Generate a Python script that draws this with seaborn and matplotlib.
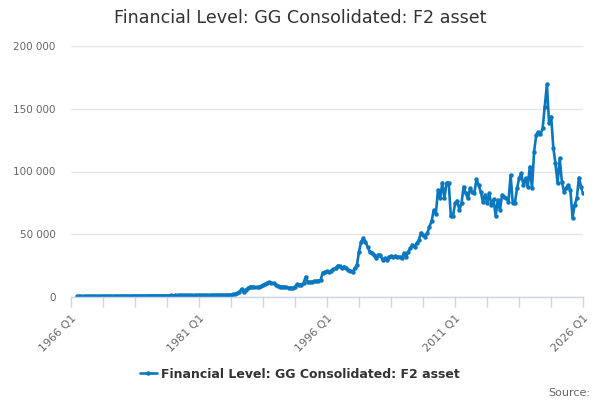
import pandas as pd
import matplotlib
matplotlib.use('Agg')
import matplotlib.pyplot as plt
import seaborn as sns

# Quarterly values (first point is 1966 Q4)
start_period = '1966Q4'
values = [
    600,                             # 1966
    650, 620, 660, 700,              # 1967
    680, 720, 690, 740,              # 1968
    760, 720, 780, 790,              # 1969
    770, 820, 800, 850,              # 1970
    820, 870, 850, 900,              # 1971
    880, 910, 890, 950,              # 1972
    930, 980, 960, 1000,             # 1973
    990, 1020, 1010, 1060,           # 1974
    1040, 1070, 1050, 1100,          # 1975
    1080, 1120, 1090, 1150,          # 1976
    1120, 1170, 1140, 1200,          # 1977
    1190, 1220, 1200, 1260,          # 1978
    1240, 1290, 1260, 1320,          # 1979
    1300, 1350, 1330, 1400,          # 1980
    1380, 1440, 1420, 1500,          # 1981
    1470, 1550, 1520, 1600,          # 1982
    1580, 1650, 1610, 1700,          # 1983
    1690, 1780, 1740, 1850,          # 1984
    2100, 2300, 2900, 4200,          # 1985
    6500, 3700, 5800, 7000,          # 1986
    8200, 8100, 7900, 7700,          # 1987
    7800, 8400, 9400, 10200,         # 1988
    11000, 11600, 11300, 10800,      # 1989
    9300, 8600, 8200, 8200,          # 1990
    8100, 7800, 7500, 7400,          # 1991
    7000, 8100, 10100, 9700,         # 1992
    9700, 10900, 16000, 11700,       # 1993
    11900, 12200, 12500, 12700,      # 1994
    13000, 13500, 19500, 20000,      # 1995
    20500, 20200, 21000, 22000,      # 1996
    23000, 25000, 24500, 22900,      # 1997
    24200, 23500, 21500, 21000,      # 1998
    20200, 22900, 25500, 36100,      # 1999
    44100, 46800, 44100, 40100,      # 2000
    36100, 34800, 33500, 30800,      # 2001
    33500, 33500, 29500, 31000,      # 2002
    29500, 32100, 32700, 32100,      # 2003
    32700, 32100, 32100, 30800,      # 2004
    34800, 31700, 36100, 38800,      # 2005
    41400, 40100, 42800, 45400,      # 2006
    51200, 49400, 48000, 50800,      # 2007
    56000, 60500, 69300, 66500,      # 2008
    85300, 78600, 91100, 78600,      # 2009
    91100, 91100, 64500, 64500,      # 2010
    74700, 76700, 69300, 74700,      # 2011
    87900, 82600, 78600, 86600,      # 2012
    83900, 82600, 93800, 89200,      # 2013
    83900, 76000, 81300, 74700,      # 2014
    82600, 73300, 77800, 64500,      # 2015
    77300, 69300, 81300, 79900,      # 2016
    78600, 76000, 97200, 74700,      # 2017
    74700, 86600, 94600, 98600,      # 2018
    89200, 94600, 87900, 103800,     # 2019
    86600, 115800, 129100, 131200,   # 2020
    129600, 134400, 151600, 169500,  # 2021
    138400, 143700, 119000, 106500,  # 2022
    90600, 110500, 92000, 83900,     # 2023
    86600, 89200, 85300, 63200,      # 2024
    73300, 78600, 95100, 87900,      # 2025
    82600,                           # 2026
]
tick_labels = ['1966 Q1', '1981 Q1', '1996 Q1', '2011 Q1', '2026 Q1']
y_ticks = [0, 50000, 100000, 150000, 200000]
series_name = 'Financial Level: GG Consolidated: F2 asset'
title = 'Financial Level: GG Consolidated: F2 asset'

periods = pd.period_range(start_period, periods=len(values), freq='Q')
df = pd.DataFrame({'period': periods, 'value': values})
df['idx'] = (df['period'].dt.year - 1966) * 4 + df['period'].dt.quarter - 1

line_color = '#0a78be'
axis_color = '#ccd6eb'
grid_color = '#e6e6e6'
label_color = '#666666'

sns.set_theme(style='white')
plt.rcParams['font.family'] = ['DejaVu Sans']

fig, ax = plt.subplots(figsize=(6, 4), dpi=100)
fig.subplots_adjust(left=0.118, right=0.972, top=0.885, bottom=0.2575)

sns.lineplot(data=df, x='idx', y='value', ax=ax, color=line_color,
             linewidth=1.9, marker='o', markersize=3.2, markeredgewidth=0,
             label=series_name, legend=False)

ax.set_xlim(0, 240)
ax.set_ylim(0, 200000)
ax.set_xlabel('')
ax.set_ylabel('')

# x axis: labelled ticks every 15 years, plain ticks every 15 quarters
ax.set_xticks([0, 60, 120, 180, 240])
ax.set_xticklabels(tick_labels, rotation=45, ha='right', rotation_mode='anchor')
ax.set_xticks(range(0, 241, 15), minor=True)
ax.tick_params(axis='x', which='both', length=7.5, width=1, color=axis_color,
               labelsize=8, labelcolor=label_color, pad=4, bottom=True)

ax.set_yticks(y_ticks)
ax.set_yticklabels(['{:,}'.format(v).replace(',', ' ') for v in y_ticks])
ax.tick_params(axis='y', length=0, labelsize=7.5, labelcolor=label_color, pad=11)

ax.yaxis.grid(True, color=grid_color, linewidth=1)
ax.xaxis.grid(False)
for side in ['top', 'right', 'left']:
    ax.spines[side].set_visible(False)
ax.spines['bottom'].set_color(axis_color)
ax.spines['bottom'].set_linewidth(1)

fig.text(0.5, 1 - 18 / 400, title, ha='center', va='center',
         fontsize=12.6, color='#333333')

handles, labels = ax.get_legend_handles_labels()
fig.legend(handles, labels, loc='center', bbox_to_anchor=(0.5, 1 - 374 / 400),
           frameon=False, handlelength=1.3, handletextpad=0.35,
           prop={'weight': 'bold', 'size': 9}, labelcolor='#333333')

fig.text(590 / 600, 1 - 393 / 400, 'Source:', ha='right', va='center',
         fontsize=8, color=label_color)

fig.savefig('out.png', dpi=100, facecolor='white')
